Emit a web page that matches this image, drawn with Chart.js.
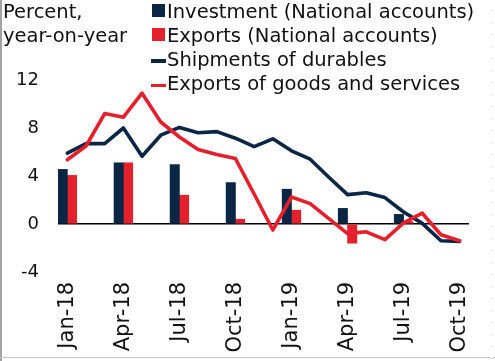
<!DOCTYPE html>
<html>
<head>
<meta charset="utf-8">
<script src="https://cdn.jsdelivr.net/npm/chart.js@4"></script>
<style>
  html, body { margin: 0; padding: 0; background: #fff; }
  #wrap { position: relative; width: 495px; height: 361px; overflow: hidden;
          font-family: "DejaVu Sans", sans-serif; color: #111; }
  #chart { position: absolute; left: 0; top: 0; }
  .row { position: absolute; font-size: 19.5px; line-height: 24px; white-space: nowrap; }
  .sq { position: absolute; left: 152px; width: 13px; height: 13px; }
  .ln { position: absolute; left: 151px; width: 15px; height: 3.5px; }
  #frameL { position: absolute; left: 0; top: 0; width: 1.5px; height: 361px; background: #a3a3a3; }
  #frameB { position: absolute; left: 0; top: 357px; width: 495px; height: 1px; background: #c4c4c4; }
  #frameR { position: absolute; left: 491px; top: 0; width: 2px; height: 361px;
            background: repeating-linear-gradient(#fff 0 10px, #ddd 10px 11px, #fff 11px 12px); }
</style>
</head>
<body>
<div id="wrap">
  <canvas id="chart" width="495" height="361"></canvas>
  <div class="row" style="left:3px;top:0px">Percent,</div>
  <div class="row" style="left:3px;top:24px">year-on-year</div>

  <div class="sq" style="top:4px;background:#0b2545"></div>
  <div class="row" style="left:167px;top:0px">Investment (National accounts)</div>
  <div class="sq" style="top:28px;background:#e4202d"></div>
  <div class="row" style="left:167px;top:24px">Exports (National accounts)</div>
  <div class="ln" style="top:59px;background:#0b2545"></div>
  <div class="row" style="left:167px;top:48px">Shipments of durables</div>
  <div class="ln" style="top:83.5px;background:#e4202d"></div>
  <div class="row" style="left:167px;top:72px">Exports of goods and services</div>

  <div id="frameL"></div>
  <div id="frameB"></div>
  <div id="frameR"></div>
</div>
<script>
// monthly categories, labels shown every third month
const months = [
  "Jan-18", "Feb-18", "Mar-18", "Apr-18", "May-18", "Jun-18",
  "Jul-18", "Aug-18", "Sep-18", "Oct-18", "Nov-18", "Dec-18",
  "Jan-19", "Feb-19", "Mar-19", "Apr-19", "May-19", "Jun-19",
  "Jul-19", "Aug-19", "Sep-19", "Oct-19"
];
const tickLabels = ["Jan-18", "Apr-18", "Jul-18", "Oct-18", "Jan-19", "Apr-19", "Jul-19", "Oct-19"];

// quarterly national accounts (placed at Jan, Apr, Jul, Oct)
const quarters = ["Jan-18", "Apr-18", "Jul-18", "Oct-18", "Jan-19", "Apr-19", "Jul-19"];
const investmentNA = [4.55, 5.1, 4.95, 3.45, 2.9, 1.3, 0.8];
const exportsNA = [4.05, 5.1, 2.4, 0.4, 1.15, -1.6, 0.2];

// monthly series
const durables = [5.9, 6.7, 6.7, 8.0, 5.65, 7.4, 8.05, 7.6, 7.7, 7.15, 6.45, 7.1,
                  6.1, 5.4, 3.9, 2.45, 2.6, 2.2, 1.0, 0.05, -1.4, -1.45];
const exportsGS = [5.35, 6.5, 9.2, 8.9, 10.9, 8.5, 7.25, 6.2, 5.8, 5.45, 2.5, -0.5,
                   2.25, 1.7, 0.45, -0.8, -0.65, -1.3, 0.1, 0.9, -0.9, -1.4];

const yTicks = [-4, 0, 4, 8, 12];

const navy = "#0b2545", red = "#e4202d";

function toMonthly(qVals) {
  return months.map(m => {
    const i = quarters.indexOf(m);
    return i >= 0 ? qVals[i] : null;
  });
}

const font = "'DejaVu Sans', sans-serif";

new Chart(document.getElementById("chart"), {
  data: {
    labels: months,
    datasets: [
      { type: "line", label: "Exports of goods and services", data: exportsGS, order: 0,
        borderColor: red, borderWidth: 3.6, pointRadius: 0, tension: 0,
        borderJoinStyle: "round", borderCapStyle: "round" },
      { type: "line", label: "Shipments of durables", data: durables, order: 1,
        borderColor: navy, borderWidth: 3.6, pointRadius: 0, tension: 0,
        borderJoinStyle: "round", borderCapStyle: "round" },
      { type: "bar", label: "Investment (National accounts)", data: toMonthly(investmentNA), order: 2,
        backgroundColor: navy, categoryPercentage: 1, barPercentage: 1 },
      { type: "bar", label: "Exports (National accounts)", data: toMonthly(exportsNA), order: 3,
        backgroundColor: red, categoryPercentage: 1, barPercentage: 1 }
    ]
  },
  options: {
    responsive: false,
    animation: false,
    layout: { padding: { top: 80, right: 8, left: 0, bottom: 0 } },
    plugins: { legend: { display: false }, tooltip: { enabled: false } },
    scales: {
      x: {
        offset: true,
        grid: { display: false, drawTicks: false },
        border: { display: false },
        ticks: {
          autoSkip: false, maxRotation: 90, minRotation: 90, padding: 10,
          color: "#111", font: { family: font, size: 21 },
          callback: (v, i) => tickLabels.includes(months[i]) ? months[i] : ""
        },
        afterFit: s => { s.height = 89; }
      },
      y: {
        min: -4, max: 12,
        afterBuildTicks: s => { s.ticks = yTicks.map(v => ({ value: v })); },
        grid: {
          drawTicks: false,
          color: c => c.tick && c.tick.value === 0 ? "#000" : "rgba(0,0,0,0)",
          lineWidth: 1.5
        },
        border: { display: false },
        ticks: { padding: 19, color: "#111", font: { family: font, size: 18 } },
        afterFit: s => { s.width = 58; }
      }
    }
  }
});
</script>
</body>
</html>
